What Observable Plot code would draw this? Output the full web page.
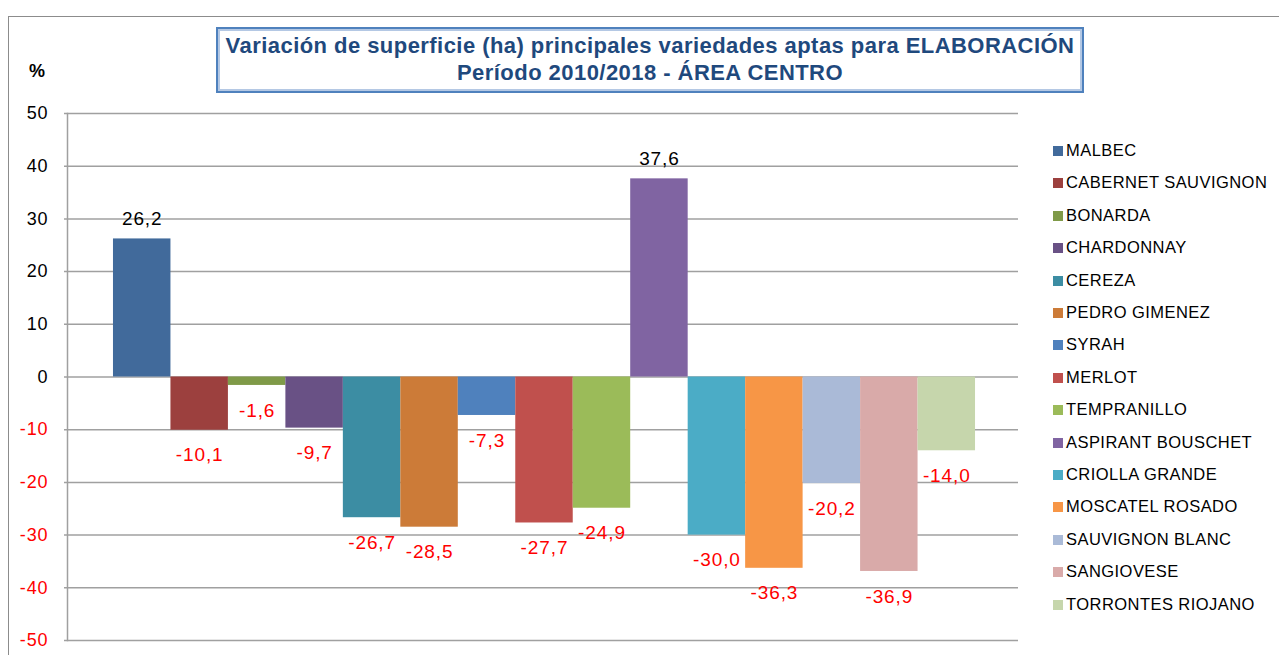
<!DOCTYPE html>
<html>
<head>
<meta charset="utf-8">
<script src="https://cdn.jsdelivr.net/npm/d3@7"></script>
<script src="https://cdn.jsdelivr.net/npm/@observablehq/plot@0.6"></script>
<style>
  html, body { margin: 0; padding: 0; background: #fff; }
  body { width: 1279px; height: 655px; overflow: hidden; font-family: "Liberation Sans", Arial, sans-serif; }
  #wrap { position: relative; width: 1279px; height: 655px; }
  #border { position: absolute; left: 8px; top: 16px; width: 1300px; height: 700px; border: 1px solid #8c8c8c; box-sizing: border-box; }
  #chart { position: absolute; left: 0; top: 0; }
  #title { position: absolute; left: 216px; top: 27px; width: 868px; height: 66px; box-sizing: border-box;
           border: 2px solid #4f81bd; box-shadow: inset 0 0 0 2px #b4c8e4; background: #fff;
           color: #1f497d; font-weight: bold; font-size: 22px; letter-spacing: 0.45px; line-height: 27px; text-align: center; padding-top: 3px; white-space: nowrap; }
  #pct { position: absolute; left: 29px; top: 61px; font-weight: bold; font-size: 18px; color: #000; }
  #legend { position: absolute; left: 1053px; top: 0; }
  .li { position: absolute; left: 0; white-space: nowrap; font-size: 16.5px; letter-spacing: 0.45px; color: #000; line-height: 20px; }
  .sw { display: inline-block; width: 10px; height: 10px; margin-right: 3px; vertical-align: 0px; }
</style>
</head>
<body>
<div id="wrap">
  <div id="border"></div>
  <div id="chart"></div>
  <div id="title">Variación de superficie (ha) principales variedades aptas para ELABORACIÓN<br>Período 2010/2018 - ÁREA CENTRO</div>
  <div id="pct">%</div>
  <div id="legend"></div>
</div>
<script>
const varieties = ["MALBEC", "CABERNET SAUVIGNON", "BONARDA", "CHARDONNAY", "CEREZA", "PEDRO GIMENEZ", "SYRAH", "MERLOT", "TEMPRANILLO", "ASPIRANT BOUSCHET", "CRIOLLA GRANDE", "MOSCATEL ROSADO", "SAUVIGNON BLANC", "SANGIOVESE", "TORRONTES RIOJANO"];
const changes = [26.2, -10.1, -1.6, -9.7, -26.7, -28.5, -7.3, -27.7, -24.9, 37.6, -30.0, -36.3, -20.2, -36.9, -14.0];
const colors = ["#416a9b", "#9c403e", "#7f9a48", "#695185", "#3c8da3", "#cc7b38", "#4f81bd", "#c0504d", "#9bbb59", "#8064a2", "#4bacc6", "#f79646", "#aabad7", "#d9aaa9", "#c6d6ac"];
const yTicks = [50, 40, 30, 20, 10, 0, -10, -20, -30, -40, -50];

const data = varieties.map((name, i) => ({name, value: changes[i]}));
const fmt = v => v.toFixed(1).replace(".", ",");
const font = "Liberation Sans, Arial, sans-serif";

const chart = Plot.plot({
  width: 1279,
  height: 655,
  marginTop: 113,
  marginBottom: 15,
  marginLeft: 67,
  marginRight: 258,
  style: {fontFamily: font, background: "transparent", overflow: "visible"},
  x: {type: "band", domain: varieties, paddingInner: 0, paddingOuter: 0.8, round: false, axis: null},
  y: {domain: [-50, 50], axis: null},
  color: {domain: varieties, range: colors},
  marks: [
    Plot.ruleY(yTicks, {y: d => d, stroke: "#a0a0a0", strokeWidth: 1.5, insetLeft: -3, insetRight: 3}),
    Plot.frame({anchor: "left", stroke: "#a0a0a0", strokeWidth: 1.5}),
    Plot.barY(data, {x: "name", y: "value", fill: "name"}),
    Plot.text(yTicks, {y: d => d, frameAnchor: "left", dx: -19, textAnchor: "end", text: d => String(d),
      fill: d => d < 0 ? "#ff0000" : "#000000", fontSize: 18}),
    Plot.text(data.filter(d => d.value >= 0), {x: "name", y: "value", text: d => fmt(d.value), dy: -20,
      fill: "#000000", fontSize: 19}),
    Plot.text(data.filter(d => d.value < 0), {x: "name", y: "value", text: d => fmt(d.value), dy: 25,
      fill: "#ff0000", fontSize: 19})
  ]
});
chart.querySelectorAll("text").forEach(t => t.setAttribute("letter-spacing", "0.9"));
document.getElementById("chart").appendChild(chart);

const legend = document.getElementById("legend");
varieties.forEach((name, i) => {
  const row = document.createElement("div");
  row.className = "li";
  row.style.top = (140 + i * 32.4) + "px";
  const sw = document.createElement("span");
  sw.className = "sw";
  sw.style.background = colors[i];
  row.appendChild(sw);
  row.appendChild(document.createTextNode(name));
  legend.appendChild(row);
});
</script>
</body>
</html>
